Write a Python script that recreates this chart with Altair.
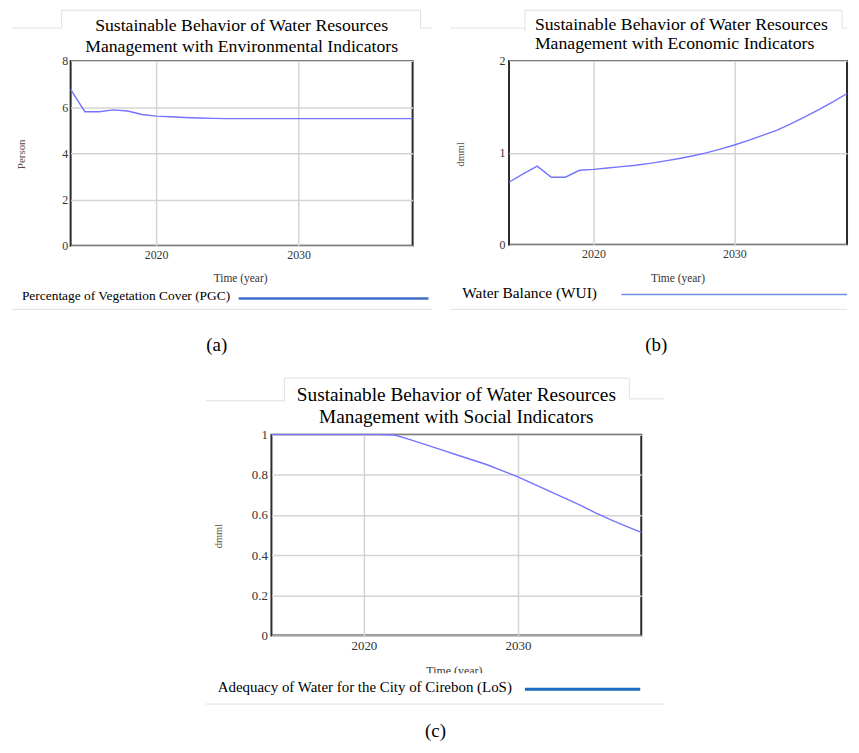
import altair as alt
import pandas as pd

# ---------------- data ----------------
years = [2014, 2015, 2016, 2017, 2018, 2019, 2020, 2021, 2022, 2023, 2024, 2025, 2026,
         2027, 2028, 2029, 2030, 2031, 2032, 2033, 2034, 2035, 2036, 2037, 2038]

pgc = [6.77, 5.80, 5.80, 5.88, 5.83, 5.68, 5.61, 5.58, 5.55, 5.53, 5.51, 5.50, 5.50,
       5.50, 5.50, 5.50, 5.50, 5.50, 5.50, 5.50, 5.50, 5.50, 5.50, 5.50, 5.50]

wui = [0.68, 0.77, 0.855, 0.735, 0.735, 0.81, 0.82, 0.835, 0.85, 0.865, 0.885, 0.91, 0.935,
       0.965, 1.00, 1.04, 1.085, 1.135, 1.19, 1.245, 1.315, 1.39, 1.47, 1.555, 1.645]

los = [1.0, 1.0, 1.0, 1.0, 1.0, 1.0, 1.0, 1.0, 0.998, 0.975, 0.95, 0.925, 0.90,
       0.875, 0.85, 0.82, 0.79, 0.755, 0.72, 0.685, 0.65, 0.612, 0.577, 0.545, 0.513]

year_ticks = [2020, 2030]
ticks_a = [0, 2, 4, 6, 8]
ticks_b = [0, 1, 2]
ticks_c = [0, 0.2, 0.4, 0.6, 0.8, 1]

title_l1 = "Sustainable Behavior of Water Resources"
title_a2 = "Management with Environmental Indicators"
title_b2 = "Management with Economic Indicators"
title_c2 = "Management with Social Indicators"
legend_a = "Percentage  of  Vegetation  Cover  (PGC)"
legend_b = "Water Balance (WUI)"
legend_c = "Adequacy  of Water for the City of Cirebon  (LoS)"

FONT = "Liberation Serif"
LINE = "#7474ff"
DECOR = "#e0e0e0"
GRID = "#d4d4d4"
LAB = "#333333"
YT = "#5c4a44"

one = pd.DataFrame({"k": [0]})


def text(t, x, y, size, align="left", color="black", angle=0, baseline="middle"):
    return alt.Chart(pd.DataFrame({"t": [t]})).mark_text(
        font=FONT, fontSize=size, align=align, baseline=baseline, color=color, angle=angle
    ).encode(x=alt.value(x), y=alt.value(y), text="t:N")


def rule(x1, x2, y1, y2, color=DECOR, w=1.0):
    return alt.Chart(one).mark_rule(color=color, strokeWidth=w).encode(
        x=alt.value(x1), x2=alt.value(x2), y=alt.value(y1), y2=alt.value(y2))


def box(x1, x2, y1, y2, color="white"):
    return alt.Chart(one).mark_rect(color=color).encode(
        x=alt.value(x1), x2=alt.value(x2), y=alt.value(y1), y2=alt.value(y2))


def line_chart(values, ydom, yvals, lab_size, ypad):
    df = pd.DataFrame({"year": years, "v": values})
    return alt.Chart(df).mark_line(color=LINE, strokeWidth=1.4).encode(
        x=alt.X("year:Q",
                scale=alt.Scale(domain=[2014, 2038], nice=False, zero=False),
                axis=alt.Axis(values=year_ticks, format="d", title=None, ticks=False,
                              domain=False, labelFont=FONT, labelFontSize=lab_size,
                              labelColor=LAB, labelPadding=4, labelFlush=False,
                              gridColor=GRID, gridWidth=1.5)),
        y=alt.Y("v:Q",
                scale=alt.Scale(domain=ydom, nice=False, zero=False),
                axis=alt.Axis(values=yvals, format="~g", title=None, ticks=False,
                              domain=False, labelFont=FONT, labelFontSize=lab_size,
                              labelColor=LAB, labelPadding=ypad,
                              gridColor=GRID, gridWidth=1.5)),
    )


# ---------------- panel (a) ----------------
WA, HA = 344, 186
pa = alt.layer(
    rule(-59, -9, -33, -33), rule(-9, -9, -51, -33), rule(-9, 352, -51, -51),
    rule(352, 352, -51, -33), rule(352, 364, -33, -33), rule(-59, 364, 250, 250),
    rule(0, 1, 300, 300, color="white"),
    line_chart(pgc, [0, 8], ticks_a, 12, 3),
    text(title_l1, 172, -30, 17.8, align="center", baseline="alphabetic"),
    text(title_a2, 172, -9, 17.8, align="center", baseline="alphabetic"),
    text("Person", -49, 94, 11, align="center", color=YT, angle=270),
    text("Time (year)", 171, 219, 11.5, align="center", color=LAB),
    text(legend_a, -49, 237, 13.5),
    rule(169, 360, 239, 239, color="#3f6fc6", w=2.5),
    text("(a)", 147, 286, 19, align="center"),
).properties(width=WA, height=HA)

# ---------------- panel (b) ----------------
WB, HB = 340, 185
pb = alt.layer(
    rule(-59, 16, -33, -33), rule(16, 16, -51, -30), rule(16, 335, -51, -51),
    rule(335, 335, -51, -33), rule(335, 340, -33, -33), rule(-59, 340, 250, 250),
    line_chart(wui, [0, 2], ticks_b, 12, 4),
    text(title_l1, 26, -31, 17.8, baseline="alphabetic"),
    text(title_b2, 26, -12, 17.8, baseline="alphabetic"),
    text("dmml", -48, 94, 10.5, align="center", color=YT, angle=270),
    text("Time (year)", 170, 219, 11.5, align="center", color=LAB),
    text(legend_b, -47, 234, 15.5),
    rule(113, 340, 235, 235, color="#6e8fe0", w=1.3),
    text("(b)", 148, 286, 19, align="center"),
).properties(width=WB, height=HB)

# ---------------- spacer that shifts panel (c) ----------------
spacer = alt.Chart(one).mark_rule(color="white", opacity=0).encode(
    x=alt.value(0), x2=alt.value(1), y=alt.value(0)
).properties(width=106, height=10, view=alt.ViewBackground(stroke="transparent"))

# ---------------- panel (c) ----------------
WC, HC = 372, 202
pc = alt.layer(
    rule(-66, 13, -34, -34), rule(13, 13, -57, -34), rule(13, 360, -57, -57),
    rule(360, 360, -57, -36), rule(360, 395, -36, -36), rule(-66, 395, 271, 271),
    line_chart(los, [0, 1], ticks_c, 13, 4),
    text(title_l1, 186, -34, 19.4, align="center", baseline="alphabetic"),
    text(title_c2, 186, -12, 19.4, align="center", baseline="alphabetic"),
    text("dmml", -53, 102, 10.5, align="center", color=YT, angle=270),
    text("Time (year)", 184, 238, 12, align="center", color=LAB),
    box(110, 260, 240, 247),
    text(legend_c, -54, 254, 15),
    rule(255, 371, 256, 256, color="#1a6cc0", w=3),
    text("(c)", 165, 298, 19, align="center"),
).properties(width=WC, height=HC)

top = alt.hconcat(pa, pb, spacing=97, bounds="flush")
bottom = alt.hconcat(spacer, pc, spacing=96, bounds="flush")

chart = alt.vconcat(top, bottom, spacing=15).properties(
    padding={"left": 2, "top": -2, "right": 0, "bottom": 0}
).configure_view(stroke="#2b2b2b", strokeWidth=2)

chart.save("out.html", embed_options={"renderer": "svg", "actions": False})
